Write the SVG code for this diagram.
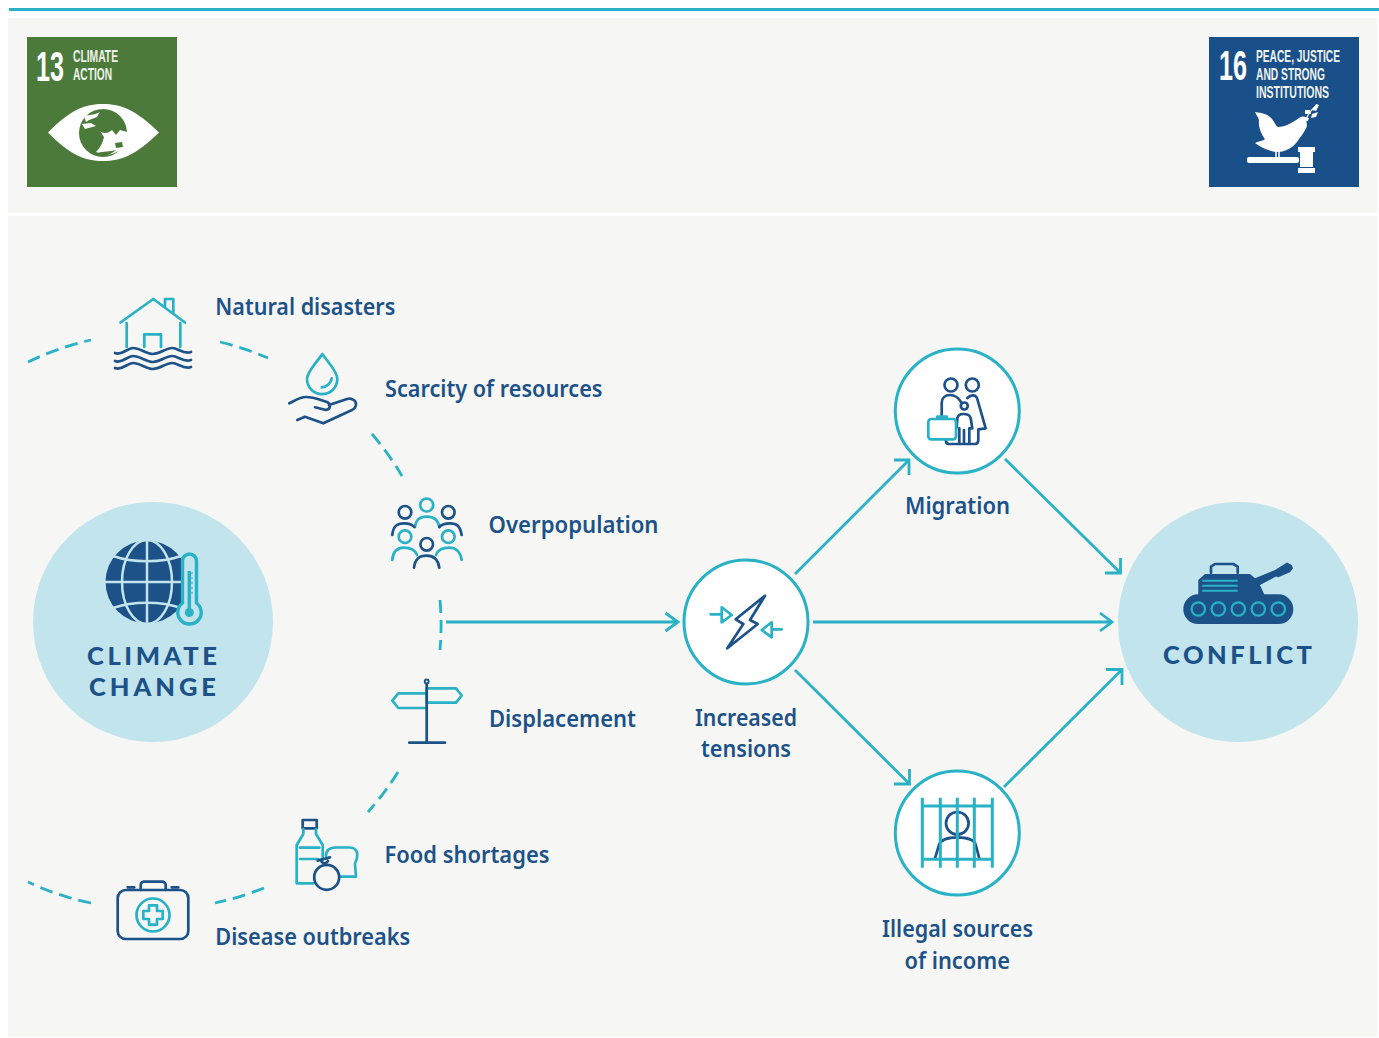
<svg xmlns="http://www.w3.org/2000/svg" width="1379" height="1038" viewBox="0 0 1379 1038">
<defs>
<style>
.panel{fill:#f6f6f4}
.lbl{font-family:"Noto Sans","Liberation Sans",sans-serif;font-weight:600;font-size:24px;fill:#1c5288}
.big{font-family:Lato,"Liberation Sans",sans-serif;font-weight:900;font-size:25.500px;fill:#1c5288}
.sdg{font-family:"Liberation Sans",sans-serif;font-weight:700;font-size:15px;fill:#eef2ec}
.num{font-family:"Liberation Sans",sans-serif;font-weight:700;font-size:43px;fill:#fff}
.t{fill:none;stroke:#29b1c6;stroke-width:2.700;stroke-linejoin:round;stroke-linecap:round}
.d{fill:none;stroke:#1c5288;stroke-width:2.700;stroke-linejoin:round;stroke-linecap:round}
.ring{fill:#fff;stroke:#29b1c6;stroke-width:3}
.disc{fill:#c2e4ed}
.dash{fill:none;stroke:#29b1c6;stroke-width:2.800;stroke-dasharray:13 7}
.conn{fill:none;stroke:#29b1c6;stroke-width:2.800}
</style>
</defs>
<rect width="1379" height="1038" fill="#fff"/>
<rect x="9" y="8" width="1370" height="3" fill="#29b1c6"/>
<rect class="panel" x="8" y="18" width="1369" height="195"/>
<rect class="panel" x="8" y="216" width="1369" height="821"/>

<g id="sdg13">
<rect x="27" y="37" width="150" height="150" fill="#4c7a3a"/>
<text class="num" transform="translate(36,81) scale(.585,1)">13</text>
<text class="sdg" transform="translate(73,62) scale(.7,1.14)" textLength="64.300" lengthAdjust="spacingAndGlyphs">CLIMATE</text>
<text class="sdg" transform="translate(73,80) scale(.7,1.14)" textLength="55.700" lengthAdjust="spacingAndGlyphs">ACTION</text>
<path d="M48,132.500C70,110 85,104 103,104C121,104 136,110 159,132.500C136,155 121,161 103,161C85,161 70,155 48,132.500Z" fill="#fff"/>
<circle cx="103" cy="133" r="24" fill="#4c7a3a"/>
<path d="M84,116C90,115 97,114 100,112L97,117L89,120L86,122ZM82,124L91,123L96,126L85,129ZM100,131C104,135 110,132 112,130L116,135L120,130L127,132L127,142C123,150 116,154 105,155L96,152C100,148 103,142 104,137Z" fill="#fff"/>
<path d="M97,153C103,151 110,152 116,150C110,156 102,157 97,153ZM115,143L122,142L123,147L116,148Z" fill="#4c7a3a"/>
</g>

<g id="sdg16">
<rect x="1209" y="37" width="150" height="150" fill="#19508a"/>
<text class="num" transform="translate(1219,80) scale(.585,1)">16</text>
<text class="sdg" transform="translate(1256,62) scale(.7,1.14)" textLength="120" lengthAdjust="spacingAndGlyphs">PEACE, JUSTICE</text>
<text class="sdg" transform="translate(1256,80) scale(.7,1.14)" textLength="98.600" lengthAdjust="spacingAndGlyphs">AND STRONG</text>
<text class="sdg" transform="translate(1256,98) scale(.7,1.14)" textLength="104.300" lengthAdjust="spacingAndGlyphs">INSTITUTIONS</text>
<path d="M1255,112C1262,113 1268,114 1272,119C1275,123 1276,126 1278,127C1285,127 1294,122 1299,118C1302,116 1305,116 1306,118L1307,126C1305,131 1302,135 1299,139C1295,146 1288,151 1279,152C1270,152 1262,148 1255,143C1259,141 1263,141 1265,139C1261,134 1258,126 1259,120C1258,117 1256,114 1255,112Z" fill="#fff"/>
<path d="M1276,151V159M1279,151V159" stroke="#fff" stroke-width="1.500" fill="none"/>
<path d="M1306,121C1307,115 1311,110 1316,106" stroke="#fff" stroke-width="1.200" fill="none"/>
<path d="M1316,104L1319,105L1316,111L1312,110ZM1305,110L1310,110L1311,114L1305,114ZM1312,114L1318,112L1316,117L1311,118ZM1304,117L1309,118L1308,121L1304,120Z" fill="#fff"/>
<rect x="1247" y="157" width="52" height="6" rx="2" fill="#fff"/>
<rect x="1298" y="147" width="17" height="5" fill="#fff"/>
<rect x="1300" y="152" width="13" height="15" fill="#fff"/>
<rect x="1298" y="168" width="17" height="5" fill="#fff"/>
</g>

<g id="connectors">
<path class="dash" d="M28,362A288,288 0 0 1 91,340"/>
<path class="dash" d="M220,342A288,288 0 0 1 268,358"/>
<path class="dash" d="M372,434A288,288 0 0 1 402,476"/>
<path class="dash" d="M440,600A288,288 0 0 1 440,650"/>
<path class="dash" d="M398,772A288,288 0 0 1 368,812"/>
<path class="dash" d="M264,888A288,288 0 0 1 215,903"/>
<path class="dash" d="M91,903A288,288 0 0 1 28,882"/>
<path class="conn" d="M446,622H678M665.500,613L678,622L665.500,631"/>
<path class="conn" d="M813,622H1112M1100,613L1112,622L1100,631"/>
<path class="conn" d="M795,574L909,460M894,460H909V475"/>
<path class="conn" d="M1005,459L1120.500,573M1120.500,558V573H1105"/>
<path class="conn" d="M795,670L909.500,784M909.500,769V784H894"/>
<path class="conn" d="M1004,787L1122,669.500M1106,669.500H1122V685"/>
</g>

<g id="climate-change">
<circle class="disc" cx="153" cy="622" r="120"/>
<circle cx="147" cy="582" r="41.500" fill="#1c5288"/>
<g fill="none" stroke="#c2e4ed" stroke-width="2.500">
<path d="M147,540V624M105,582H189"/>
<ellipse cx="147" cy="582" rx="25" ry="42"/>
<path d="M113,556C133,563 161,563 181,556M113,608C133,601 161,601 181,608"/>
</g>
<path d="M182.500,603V561A7,7 0 0 1 196.500,561V603A11.700,11.700 0 1 1 182.500,603Z" fill="#c2e4ed" stroke="#29b1c6" stroke-width="3.400"/>
<path d="M189.300,571V610" stroke="#29b1c6" stroke-width="3.500" fill="none"/>
<circle cx="189.300" cy="612.500" r="4.500" fill="#29b1c6"/>
<path d="M191,573H193M191,578H193M191,583H193M191,588H193M191,593H193" stroke="#29b1c6" stroke-width="1" fill="none"/>
<text class="big" x="87" y="665" textLength="130">CLIMATE</text>
<text class="big" x="89" y="696" textLength="127">CHANGE</text>
</g>

<g id="natural-disasters">
<path class="t" d="M120.500,322.500L153.300,299L185,322.500M165,306V299H173.300V313M126.700,323V347M180.300,323V347M144.300,347V334.300H161V347"/>
<path class="d" d="M115,353C122,356 127,348 133,348C140,348 146,354 153,354C160,354 166,348 172,348C178,348 184,355 191,352M115,361C122,364 127,356 133,356C140,356 146,362 153,362C160,362 166,356 172,356C178,356 184,363 191,360M115,368C122,371 127,363 133,363C140,363 146,369 153,369C160,369 166,363 172,363C178,363 184,370 191,367"/>
<text class="lbl" x="215.300" y="315" textLength="180" lengthAdjust="spacingAndGlyphs">Natural disasters</text>
</g>

<g id="scarcity">
<path class="t" d="M322.300,354C318,361 307,371 307,379A15,15 0 0 0 337.300,379C337.300,371 327,361 322.300,354ZM321.700,387.300C327,387 331,383 331.700,378.300"/>
<path class="d" d="M289.300,403.300C296,400 300,397 306,397C314,397 320,400 327,402C331,404 331,409 326,410L315,407.300M329,405L347,399C351,398 356,400 356,404C356,407 354,409 352,410L323.300,423.300L305,416.700L297.300,420"/>
<text class="lbl" x="385" y="397" textLength="217.500" lengthAdjust="spacingAndGlyphs">Scarcity of resources</text>
</g>

<g id="overpopulation">
<circle class="t" cx="426.700" cy="505" r="6.500"/>
<circle class="d" cx="405" cy="512.300" r="6.300"/>
<circle class="d" cx="448.300" cy="512.300" r="6.300"/>
<circle class="t" cx="405" cy="536.700" r="6.300"/>
<circle class="t" cx="448.300" cy="536.700" r="6.300"/>
<circle class="d" cx="426.700" cy="544.300" r="6.300"/>
<path class="t" d="M415,527C416,519 420,516.700 426.700,516.700C433,516.700 438,519 439.300,527M392.300,560C393,551 397,547.700 404,547.700C410,547.700 415,550 417,555M436,555C438,550 443,547.700 449,547.700C456,547.700 460,551 461.700,560"/>
<path class="d" d="M392.300,535C393,526 397,523.300 404,523.300C409,523.300 412,524 414.300,527M439.300,527C442,524 445,523.300 450,523.300C457,523.300 460,526 461.700,535M414,567.700C415,559 419,555.700 426.700,555.700C434,555.700 438,559 439.300,567.700"/>
<text class="lbl" x="488.500" y="533" textLength="170" lengthAdjust="spacingAndGlyphs">Overpopulation</text>
</g>

<g id="displacement">
<path class="t" d="M426.700,688.300H456L461.700,695.500L456,702.700H426.700ZM425,693.300H398.300L392.300,700.700L398.300,708H425"/>
<path class="d" d="M426.700,684V742.500M409.300,742.700H445"/>
<circle cx="426.700" cy="681.500" r="2" fill="none" stroke="#1c5288" stroke-width="1.800"/>
<text class="lbl" x="489" y="727" textLength="147" lengthAdjust="spacingAndGlyphs">Displacement</text>
</g>

<g id="food-shortages">
<path class="d" d="M302.700,820H316.700V828.300H302.700Z"/>
<path class="t" d="M303.300,829V834L296.700,845V883.300H313.300M316,829V834L322.700,845V860M300,847.700H319.300M300,859H318M326,856C326,850 330,847.500 336,847.500H349C356,847.500 358,852 357,857C357,860 355,862 355,864L356,876.700H340"/>
<circle class="d" cx="326.700" cy="877.300" r="12.500"/>
<path class="d" d="M317.700,860.700C321,858.500 326,859.500 330,857.300M321,861C323,864 326,864 328,861M326,863V865"/>
<text class="lbl" x="384.500" y="863" textLength="165" lengthAdjust="spacingAndGlyphs">Food shortages</text>
</g>

<g id="disease-outbreaks">
<rect class="d" x="117.700" y="890" width="70.600" height="49" rx="8"/>
<path class="d" d="M140.700,890V885A3.500,3.500 0 0 1 144,881.700H162A3.500,3.500 0 0 1 165.700,885V890M127.700,887.300H134.300M171.700,887.300H178.300"/>
<circle class="t" cx="153" cy="915" r="16.500"/>
<path class="t" d="M149,905.300H157V911H162.700V919H157V924.700H149V919H143.300V911H149Z"/>
<text class="lbl" x="215.300" y="945" textLength="195" lengthAdjust="spacingAndGlyphs">Disease outbreaks</text>
</g>

<g id="increased-tensions">
<circle class="ring" cx="746" cy="622" r="62"/>
<path class="t" d="M710.700,614.300H721.700M721.700,607.300L731.700,615L721.700,622.300ZM771.700,622.300L761.700,630L771.700,637.300ZM771.700,629.300H781.700"/>
<path class="d" d="M765,595.700L735.700,619.300L743.300,624L727.300,648.300L757.700,624L750,620Z"/>
<text class="lbl" x="695" y="726" textLength="102" lengthAdjust="spacingAndGlyphs">Increased</text>
<text class="lbl" x="701" y="757" textLength="90" lengthAdjust="spacingAndGlyphs">tensions</text>
</g>

<g id="migration">
<circle class="ring" cx="957.300" cy="411" r="62"/>
<circle class="d" cx="951" cy="385" r="6.500"/>
<circle class="d" cx="972.300" cy="385" r="6.500"/>
<circle class="d" cx="964.300" cy="406" r="3.500"/>
<path class="d" d="M941.700,415V403C941.700,398 945,395 950,395C955,395 958,397 961,402M967.300,398C970,395 975,394 977,398L985.700,428.300L978.300,429.300V440C978.300,443 977,444 975,444H970M945.700,440C946,443 947,444 949,444H958.500M956.700,427.300L957.300,418.300C958,415 960,414 963.300,414C967,414 970,415 970.700,418.300L972.300,428.300H969.300V444H964V430M964,444H959.300V428.300"/>
<rect class="t" x="928.300" y="419" width="27.700" height="20.300" rx="3"/>
<path class="t" d="M937.300,419V416.700H946.700V419"/>
<text class="lbl" x="905" y="514" textLength="105" lengthAdjust="spacingAndGlyphs">Migration</text>
</g>

<g id="illegal-sources">
<circle class="ring" cx="957.300" cy="833" r="62"/>
<circle class="d" cx="957.300" cy="823.300" r="11.300"/>
<path class="d" d="M935,858.300L939.300,844C941,840 948,837.300 957.300,837.300C967,837.300 974,840 975.500,844L979.300,858.300"/>
<path d="M922.300,797.700V867.700M940.300,797.700V867.700M957.300,797.700V867.700M974.300,797.700V867.700M992.300,797.700V867.700M922,806H992.500M922,859.300H992.500" fill="none" stroke="#29b1c6" stroke-width="3"/>
<text class="lbl" x="882" y="937" textLength="151" lengthAdjust="spacingAndGlyphs">Illegal sources</text>
<text class="lbl" x="904.500" y="969" textLength="105.500" lengthAdjust="spacingAndGlyphs">of income</text>
</g>

<g id="conflict">
<circle class="disc" cx="1238" cy="622" r="120"/>
<rect x="1183.300" y="594.300" width="110" height="29.700" rx="14.800" fill="#1c5288"/>
<path d="M1198.300,596V580L1205,574H1250L1255,578.300L1275,570L1287,562.500L1291.700,565L1293,568.300L1290,572.300L1278.300,577.300L1276,576.500L1260,585L1265,596Z" fill="#1c5288"/>
<path class="d" d="M1211,572.700V566.700L1215,564H1233.300L1237.700,566.700V572.700"/>
<path d="M1202.300,580.700H1237.700M1202.300,585.700H1237.700M1202.300,590.700H1237.700" fill="none" stroke="#29b1c6" stroke-width="2"/>
<g fill="none" stroke="#29b1c6" stroke-width="2.200">
<circle cx="1198.300" cy="609" r="6.700"/><circle cx="1218.300" cy="609" r="6.700"/><circle cx="1238.300" cy="609" r="6.700"/><circle cx="1258.300" cy="609" r="6.700"/><circle cx="1278.300" cy="609" r="6.700"/>
</g>
<text class="big" x="1163" y="664" textLength="149">CONFLICT</text>
</g>
</svg>
